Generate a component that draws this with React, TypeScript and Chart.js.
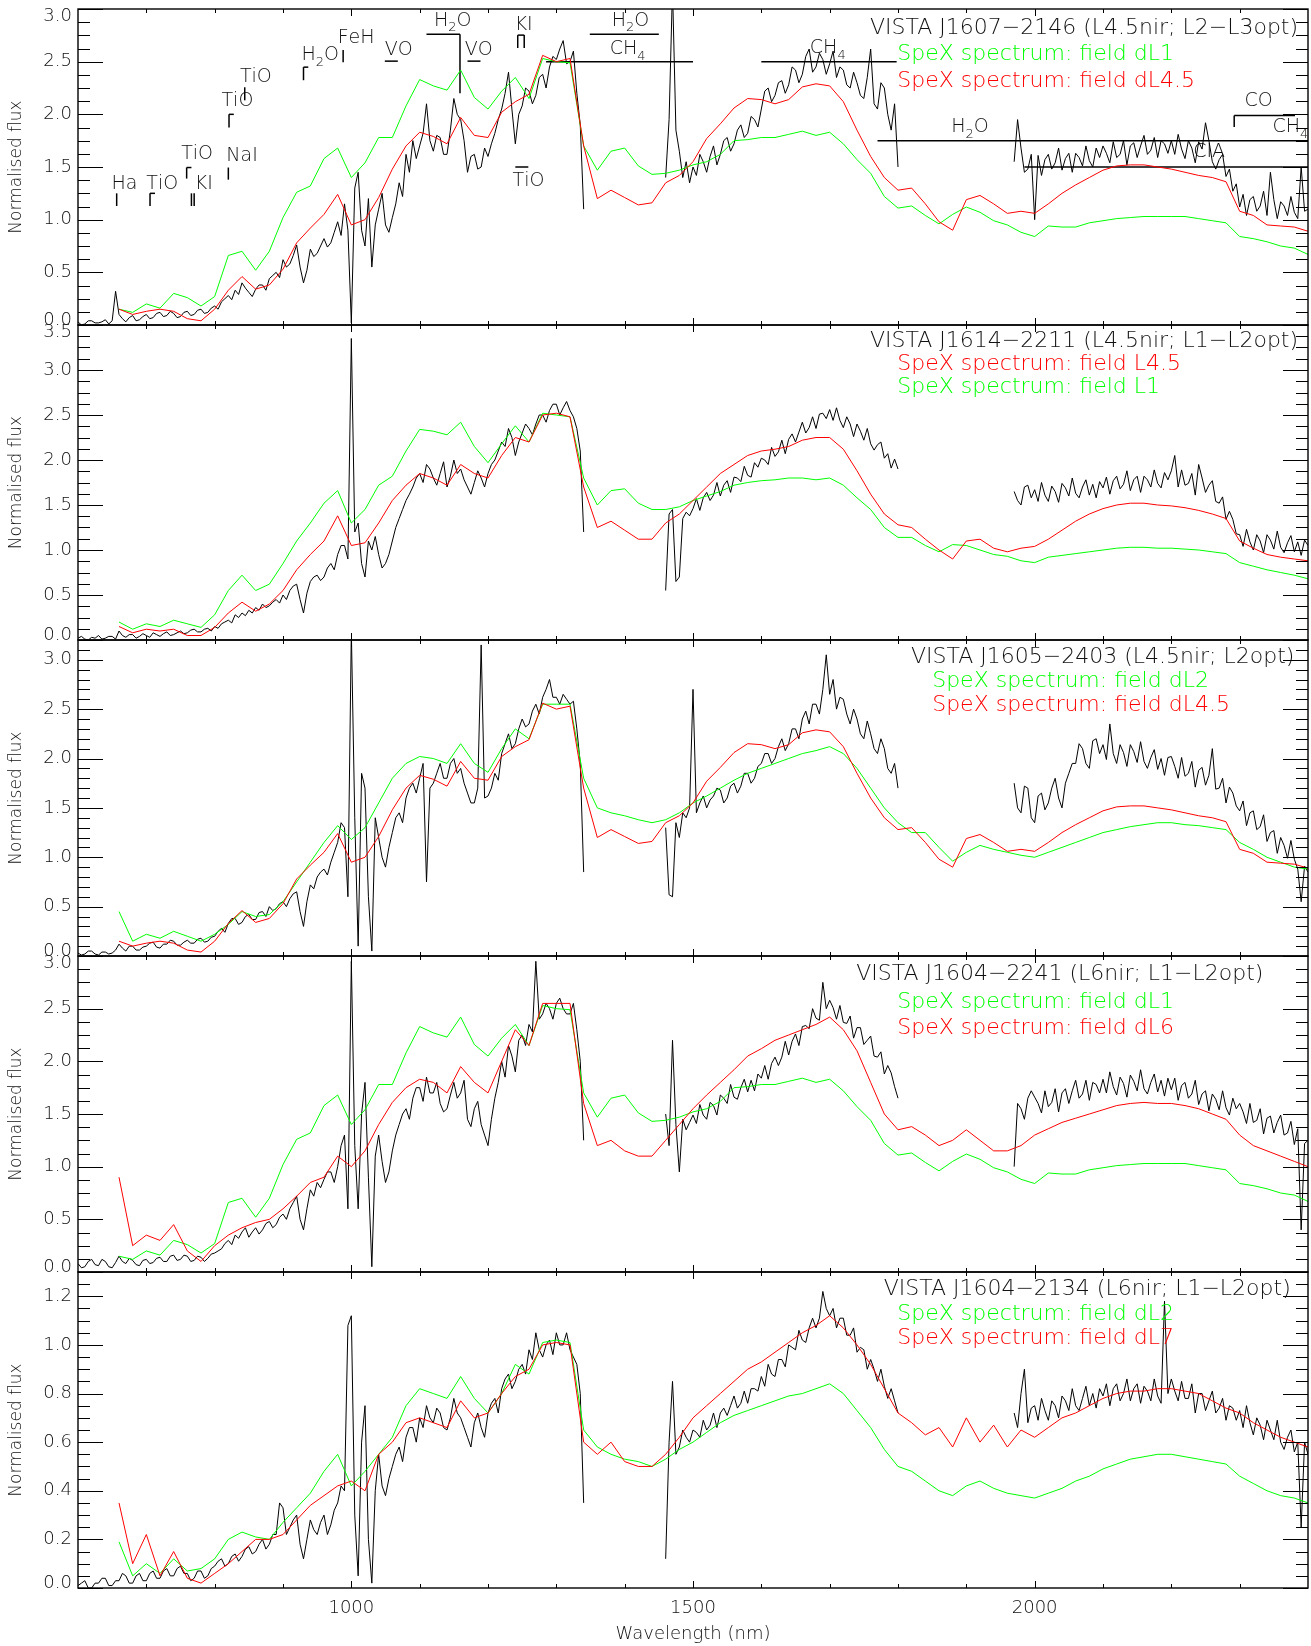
import React, { useEffect, useRef } from "react";
import { Chart, registerables } from "chart.js";

Chart.register(...registerables);

const _ = null;

// ---------------- data ----------------
const WAVE_5 = [
  600, 605, 610, 615, 620, 625, 630, 635, 640, 645, 650, 655, 660, 665, 670, 675, 680, 685, 690, 695,
  700, 705, 710, 715, 720, 725, 730, 735, 740, 745, 750, 755, 760, 765, 770, 775, 780, 785, 790, 795,
  800, 805, 810, 815, 820, 825, 830, 835, 840, 845, 850, 855, 860, 865, 870, 875, 880, 885, 890, 895,
  900, 905, 910, 915, 920, 925, 930, 935, 940, 945, 950, 955, 960, 965, 970, 975, 980, 985, 990, 995,
  1000, 1005, 1010, 1015, 1020, 1025, 1030, 1035, 1040, 1045, 1050, 1055, 1060, 1065, 1070, 1075, 1080, 1085, 1090, 1095,
  1100, 1105, 1110, 1115, 1120, 1125, 1130, 1135, 1140, 1145, 1150, 1155, 1160, 1165, 1170, 1175, 1180, 1185, 1190, 1195,
  1200, 1205, 1210, 1215, 1220, 1225, 1230, 1235, 1240, 1245, 1250, 1255, 1260, 1265, 1270, 1275, 1280, 1285, 1290, 1295,
  1300, 1305, 1310, 1315, 1320, 1325, 1330, 1335, 1340, 1345, 1350, 1355, 1360, 1365, 1370, 1375, 1380, 1385, 1390, 1395,
  1400, 1405, 1410, 1415, 1420, 1425, 1430, 1435, 1440, 1445, 1450, 1455, 1460, 1465, 1470, 1475, 1480, 1485, 1490, 1495,
  1500, 1505, 1510, 1515, 1520, 1525, 1530, 1535, 1540, 1545, 1550, 1555, 1560, 1565, 1570, 1575, 1580, 1585, 1590, 1595,
  1600, 1605, 1610, 1615, 1620, 1625, 1630, 1635, 1640, 1645, 1650, 1655, 1660, 1665, 1670, 1675, 1680, 1685, 1690, 1695,
  1700, 1705, 1710, 1715, 1720, 1725, 1730, 1735, 1740, 1745, 1750, 1755, 1760, 1765, 1770, 1775, 1780, 1785, 1790, 1795,
  1800, 1805, 1810, 1815, 1820, 1825, 1830, 1835, 1840, 1845, 1850, 1855, 1860, 1865, 1870, 1875, 1880, 1885, 1890, 1895,
  1900, 1905, 1910, 1915, 1920, 1925, 1930, 1935, 1940, 1945, 1950, 1955, 1960, 1965, 1970, 1975, 1980, 1985, 1990, 1995,
  2000, 2005, 2010, 2015, 2020, 2025, 2030, 2035, 2040, 2045, 2050, 2055, 2060, 2065, 2070, 2075, 2080, 2085, 2090, 2095,
  2100, 2105, 2110, 2115, 2120, 2125, 2130, 2135, 2140, 2145, 2150, 2155, 2160, 2165, 2170, 2175, 2180, 2185, 2190, 2195,
  2200, 2205, 2210, 2215, 2220, 2225, 2230, 2235, 2240, 2245, 2250, 2255, 2260, 2265, 2270, 2275, 2280, 2285, 2290, 2295,
  2300, 2305, 2310, 2315, 2320, 2325, 2330, 2335, 2340, 2345, 2350, 2355, 2360, 2365, 2370, 2375, 2380, 2385, 2390, 2395,
  2400,
];

const WAVE_20 = [
  600, 620, 640, 660, 680, 700, 720, 740, 760, 780,
  800, 820, 840, 860, 880, 900, 920, 940, 960, 980,
  1000, 1020, 1040, 1060, 1080, 1100, 1120, 1140, 1160, 1180,
  1200, 1220, 1240, 1260, 1280, 1300, 1320, 1340, 1360, 1380,
  1400, 1420, 1440, 1460, 1480, 1500, 1520, 1540, 1560, 1580,
  1600, 1620, 1640, 1660, 1680, 1700, 1720, 1740, 1760, 1780,
  1800, 1820, 1840, 1860, 1880, 1900, 1920, 1940, 1960, 1980,
  2000, 2020, 2040, 2060, 2080, 2100, 2120, 2140, 2160, 2180,
  2200, 2220, 2240, 2260, 2280, 2300, 2320, 2340, 2360, 2380,
  2400,
];

// observed VISTA spectra (black), 5 nm sampling
const BLACK_J1607 = [
  0.03, 0.00, 0.01, 0.04, 0.04, 0.02, 0.02, 0.03, 0.05, 0.01, 0.04, 0.32, 0.10, 0.06, 0.03, 0.07, 0.09, 0.04, 0.05, 0.08,
  0.10, 0.06, 0.07, 0.11, 0.12, 0.08, 0.09, 0.13, 0.11, 0.07, 0.08, 0.12, 0.13, 0.09, 0.10, 0.14, 0.15, 0.11, 0.12, 0.16,
  0.18, 0.15, 0.22, 0.25, 0.28, 0.24, 0.33, 0.29, 0.40, 0.35, 0.31, 0.27, 0.34, 0.38, 0.38, 0.33, 0.44, 0.47, 0.50, 0.45,
  0.62, 0.55, 0.58, 0.66, 0.76, 0.55, 0.40, 0.52, 0.72, 0.65, 0.68, 0.75, 0.82, 0.74, 0.78, 0.88, 0.98, 0.85, 1.15, 0.90,
  0.02, 1.30, 1.45, 0.90, 0.75, 1.20, 0.55, 0.95, 1.10, 1.25, 0.95, 0.88, 1.02, 1.15, 1.35, 1.22, 1.62, 1.45, 1.75, 1.58,
  1.70, 1.82, 2.10, 1.75, 1.65, 1.80, 1.78, 1.62, 1.62, 1.85, 2.15, 2.00, 1.95, 1.75, 1.45, 1.60, 1.62, 1.48, 1.50, 1.68,
  1.60, 1.72, 1.82, 1.95, 2.05, 2.20, 2.40, 2.05, 1.72, 2.00, 2.08, 2.25, 2.22, 2.10, 2.18, 2.35, 2.38, 2.25, 2.45, 2.55,
  2.52, 2.62, 2.70, 2.48, 2.50, 2.60, 2.20, 1.90, 1.10, _, _, _, _, _, _, _, _, _, _, _,
  _, _, _, _, _, _, _, _, _, _, _, _, 1.40, 1.95, 3.20, 1.85, 1.65, 1.40, 1.55, 1.35,
  1.50, 1.42, 1.62, 1.55, 1.45, 1.60, 1.70, 1.52, 1.62, 1.75, 1.78, 1.65, 1.72, 1.85, 1.90, 1.78, 1.82, 1.98, 1.95, 1.88,
  2.05, 2.22, 2.25, 2.12, 2.18, 2.30, 2.32, 2.20, 2.28, 2.45, 2.42, 2.30, 2.38, 2.55, 2.62, 2.40, 2.45, 2.58, 2.52, 2.38,
  2.48, 2.60, 2.35, 2.45, 2.42, 2.28, 2.25, 2.40, 2.30, 2.18, 2.15, 2.35, 2.62, 2.10, 2.05, 2.30, 2.25, 2.00, 1.85, 2.10,
  1.50, _, _, _, _, _, _, _, _, _, _, _, _, _, _, _, _, _, _, _,
  _, _, _, _, _, _, _, _, _, _, _, _, _, _, 1.55, 1.95, 1.68, 1.45, 1.48, 1.62,
  1.00, 1.61, 1.42, 1.57, 1.62, 1.48, 1.54, 1.68, 1.47, 1.58, 1.63, 1.45, 1.63, 1.59, 1.51, 1.70, 1.56, 1.50, 1.68, 1.59,
  1.70, 1.63, 1.54, 1.74, 1.59, 1.62, 1.75, 1.52, 1.70, 1.73, 1.59, 1.70, 1.80, 1.62, 1.66, 1.78, 1.59, 1.75, 1.72, 1.63,
  1.75, 1.62, 1.81, 1.67, 1.58, 1.75, 1.68, 1.54, 1.74, 1.67, 1.92, 1.75, 1.55, 1.48, 1.57, 1.62, 1.41, 1.48, 1.27, 1.34,
  1.12, 1.24, 1.04, 1.19, 1.22, 1.08, 1.13, 1.27, 1.04, 1.45, 1.19, 1.01, 1.17, 1.13, 1.04, 1.22, 1.07, 1.01, 1.50, 1.08,
  1.10,
];

const BLACK_J1614 = [
  0.02, 0.04, 0.01, 0.00, 0.03, 0.02, 0.05, 0.01, 0.02, 0.04, 0.04, 0.01, 0.10, 0.05, 0.03, 0.06, 0.06, 0.02, 0.04, 0.07,
  0.05, 0.03, 0.08, 0.06, 0.04, 0.07, 0.09, 0.05, 0.06, 0.08, 0.10, 0.07, 0.08, 0.11, 0.12, 0.09, 0.09, 0.12, 0.13, 0.10,
  0.15, 0.13, 0.18, 0.20, 0.22, 0.19, 0.28, 0.25, 0.30, 0.27, 0.33, 0.30, 0.36, 0.33, 0.40, 0.36, 0.38, 0.42, 0.45, 0.41,
  0.50, 0.45, 0.55, 0.60, 0.62, 0.45, 0.30, 0.52, 0.65, 0.70, 0.72, 0.66, 0.70, 0.80, 0.85, 0.78, 0.95, 1.05, 1.05, 0.90,
  3.35, 1.20, 1.30, 0.85, 0.70, 1.10, 1.00, 1.15, 0.95, 0.80, 0.85, 0.95, 1.10, 1.25, 1.35, 1.45, 1.55, 1.62, 1.70, 1.80,
  1.85, 1.75, 1.95, 1.90, 1.80, 1.72, 1.85, 1.98, 1.70, 1.82, 2.00, 1.85, 1.90, 1.78, 1.70, 1.62, 1.75, 1.88, 1.80, 1.70,
  1.85, 1.95, 2.00, 2.10, 2.20, 2.15, 2.35, 2.25, 2.05, 2.20, 2.30, 2.40, 2.35, 2.28, 2.40, 2.50, 2.50, 2.42, 2.55, 2.62,
  2.62, 2.50, 2.58, 2.65, 2.55, 2.48, 2.35, 2.10, 1.20, _, _, _, _, _, _, _, _, _, _, _,
  _, _, _, _, _, _, _, _, _, _, _, _, 0.55, 1.40, 1.45, 0.65, 0.70, 1.35, 1.42, 1.38,
  1.46, 1.57, 1.44, 1.58, 1.64, 1.55, 1.61, 1.75, 1.60, 1.72, 1.77, 1.64, 1.81, 1.80, 1.76, 1.93, 1.83, 1.81, 1.97, 1.92,
  2.02, 2.00, 1.95, 2.14, 2.04, 2.09, 2.22, 2.07, 2.23, 2.29, 2.20, 2.31, 2.42, 2.30, 2.36, 2.48, 2.35, 2.51, 2.52, 2.46,
  2.56, 2.44, 2.58, 2.44, 2.36, 2.48, 2.40, 2.26, 2.40, 2.32, 2.22, 2.35, 2.18, 2.11, 2.17, 2.20, 2.02, 2.07, 1.91, 2.01,
  1.90, _, _, _, _, _, _, _, _, _, _, _, _, _, _, _, _, _, _, _,
  _, _, _, _, _, _, _, _, _, _, _, _, _, _, 1.65, 1.55, 1.50, 1.70, 1.72, 1.58,
  1.67, 1.54, 1.75, 1.61, 1.54, 1.71, 1.65, 1.53, 1.74, 1.69, 1.60, 1.80, 1.63, 1.58, 1.70, 1.78, 1.61, 1.73, 1.58, 1.76,
  1.69, 1.81, 1.62, 1.77, 1.82, 1.68, 1.73, 1.88, 1.66, 1.78, 1.82, 1.64, 1.82, 1.78, 1.70, 1.89, 1.74, 1.69, 1.86, 1.78,
  1.88, 2.05, 1.70, 1.89, 1.72, 1.74, 1.85, 1.61, 1.95, 1.80, 1.64, 1.72, 1.77, 1.54, 1.52, 1.59, 1.34, 1.43, 1.34, 1.18,
  1.17, 1.04, 1.23, 1.09, 1.00, 1.17, 1.10, 0.97, 1.17, 1.11, 1.01, 1.21, 1.03, 0.97, 1.08, 1.16, 0.98, 1.09, 0.94, 1.11,
  1.05,
];

const BLACK_J1605 = [
  0.03, 0.01, 0.02, 0.05, 0.05, 0.02, 0.01, 0.04, 0.04, 0.02, 0.03, 0.06, 0.12, 0.08, 0.05, 0.10, 0.10, 0.06, 0.06, 0.09,
  0.10, 0.13, 0.14, 0.09, 0.08, 0.12, 0.12, 0.16, 0.15, 0.11, 0.11, 0.14, 0.16, 0.13, 0.13, 0.17, 0.18, 0.14, 0.15, 0.19,
  0.20, 0.25, 0.28, 0.24, 0.33, 0.38, 0.38, 0.32, 0.34, 0.40, 0.42, 0.37, 0.37, 0.44, 0.45, 0.40, 0.50, 0.46, 0.48, 0.53,
  0.55, 0.50, 0.58, 0.63, 0.65, 0.45, 0.30, 0.55, 0.72, 0.68, 0.80, 0.85, 0.88, 0.82, 0.95, 1.05, 1.15, 1.35, 1.30, 0.60,
  3.30, 1.40, 0.10, 1.85, 1.70, 0.60, 0.05, 1.40, 1.20, 1.00, 0.90, 1.10, 1.25, 1.40, 1.45, 1.35, 1.60, 1.70, 1.75, 1.65,
  1.80, 1.95, 0.75, 1.70, 1.75, 1.85, 1.95, 1.80, 1.80, 1.95, 2.00, 1.85, 1.90, 1.75, 1.65, 1.55, 1.55, 1.70, 3.15, 1.60,
  1.62, 1.70, 1.85, 1.78, 2.05, 2.15, 2.25, 2.10, 2.15, 2.30, 2.40, 2.32, 2.35, 2.48, 2.55, 2.45, 2.62, 2.70, 2.80, 2.62,
  2.62, 2.55, 2.65, 2.60, 2.55, 2.58, 2.30, 1.95, 0.85, _, _, _, _, _, _, _, _, _, _, _,
  _, _, _, _, _, _, _, _, _, _, _, _, 1.30, 0.62, 0.60, 1.35, 1.20, 1.45, 1.40, 1.50,
  2.70, 1.45, 1.55, 1.62, 1.50, 1.58, 1.62, 1.70, 1.68, 1.55, 1.60, 1.72, 1.75, 1.65, 1.72, 1.85, 1.85, 1.75, 1.80, 1.92,
  1.95, 2.05, 2.05, 1.95, 2.00, 2.12, 2.20, 2.08, 2.15, 2.30, 2.30, 2.20, 2.40, 2.48, 2.35, 2.55, 2.55, 2.45, 2.70, 3.05,
  2.65, 2.80, 2.50, 2.62, 2.60, 2.45, 2.35, 2.50, 2.40, 2.25, 2.20, 2.38, 2.25, 2.10, 2.05, 2.20, 2.10, 1.90, 1.85, 1.95,
  1.70, _, _, _, _, _, _, _, _, _, _, _, _, _, _, _, _, _, _, _,
  _, _, _, _, _, _, _, _, _, _, _, _, _, _, 1.75, 1.50, 1.45, 1.72, 1.70, 1.40,
  1.35, 1.62, 1.65, 1.48, 1.55, 1.70, 1.80, 1.60, 1.50, 1.75, 1.85, 1.95, 1.95, 2.15, 2.10, 1.95, 1.90, 2.18, 2.20, 2.05,
  2.14, 1.99, 2.35, 2.05, 1.95, 2.14, 2.06, 1.92, 2.14, 2.07, 1.96, 2.17, 1.97, 1.90, 2.01, 2.09, 1.89, 2.00, 1.83, 2.01,
  2.02, 1.92, 1.80, 2.01, 1.82, 1.85, 1.97, 1.71, 1.88, 1.91, 1.73, 1.83, 2.10, 1.69, 1.70, 1.80, 1.55, 1.71, 1.65, 1.52,
  1.47, 1.57, 1.32, 1.45, 1.47, 1.28, 1.31, 1.43, 1.16, 1.25, 1.27, 1.04, 1.20, 1.12, 0.99, 1.17, 0.98, 0.88, 0.55, 0.91,
  0.85,
];

const BLACK_J1604_2241 = [
  0.08, 0.04, 0.05, 0.10, 0.12, 0.07, 0.06, 0.12, 0.10, 0.05, 0.04, 0.09, 0.15, 0.10, 0.08, 0.13, 0.11, 0.07, 0.06, 0.11,
  0.12, 0.08, 0.09, 0.13, 0.14, 0.10, 0.10, 0.15, 0.16, 0.11, 0.12, 0.16, 0.15, 0.10, 0.11, 0.15, 0.14, 0.10, 0.13, 0.17,
  0.18, 0.20, 0.22, 0.27, 0.30, 0.26, 0.35, 0.32, 0.38, 0.42, 0.33, 0.38, 0.42, 0.36, 0.40, 0.46, 0.48, 0.42, 0.45, 0.52,
  0.55, 0.50, 0.60, 0.66, 0.72, 0.50, 0.40, 0.60, 0.78, 0.72, 0.85, 0.80, 0.88, 0.95, 0.95, 0.85, 1.00, 1.20, 1.30, 0.60,
  2.95, 1.20, 0.60, 1.50, 1.80, 0.90, 0.05, 1.10, 1.30, 1.05, 0.85, 0.95, 1.15, 1.30, 1.40, 1.50, 1.55, 1.45, 1.65, 1.75,
  1.75, 1.62, 1.85, 1.70, 1.70, 1.80, 1.60, 1.52, 1.55, 1.68, 1.80, 1.65, 1.70, 1.82, 1.45, 1.38, 1.55, 1.62, 1.40, 1.30,
  1.20, 1.45, 1.65, 1.80, 2.00, 1.85, 2.15, 2.05, 1.90, 2.20, 2.25, 2.15, 2.35, 2.28, 2.95, 2.40, 2.45, 2.55, 2.50, 2.40,
  2.55, 2.60, 2.50, 2.45, 2.45, 2.55, 2.30, 2.00, 1.25, _, _, _, _, _, _, _, _, _, _, _,
  _, _, _, _, _, _, _, _, _, _, _, _, 1.50, 1.20, 2.20, 1.40, 0.95, 1.45, 1.35, 1.42,
  1.49, 1.41, 1.59, 1.49, 1.45, 1.61, 1.58, 1.49, 1.68, 1.65, 1.60, 1.78, 1.66, 1.64, 1.75, 1.83, 1.71, 1.82, 1.72, 1.88,
  1.84, 1.96, 1.83, 1.98, 2.04, 1.96, 2.04, 2.19, 2.06, 2.19, 2.26, 2.15, 2.33, 2.34, 2.31, 2.50, 2.41, 2.39, 2.75, 2.50,
  2.58, 2.51, 2.40, 2.53, 2.37, 2.36, 2.43, 2.22, 2.32, 2.32, 2.16, 2.20, 2.24, 2.05, 2.04, 2.09, 1.88, 1.96, 1.89, 1.76,
  1.65, _, _, _, _, _, _, _, _, _, _, _, _, _, _, _, _, _, _, _,
  _, _, _, _, _, _, _, _, _, _, _, _, _, _, 1.00, 1.60, 1.55, 1.45, 1.65, 1.72,
  1.66, 1.60, 1.51, 1.72, 1.57, 1.61, 1.74, 1.52, 1.70, 1.74, 1.60, 1.72, 1.82, 1.65, 1.69, 1.82, 1.63, 1.80, 1.78, 1.70,
  1.83, 1.70, 1.90, 1.76, 1.68, 1.85, 1.79, 1.66, 1.87, 1.81, 1.72, 1.92, 1.74, 1.69, 1.80, 1.88, 1.71, 1.82, 1.67, 1.84,
  1.73, 1.84, 1.63, 1.77, 1.80, 1.65, 1.69, 1.82, 1.59, 1.69, 1.72, 1.53, 1.69, 1.64, 1.54, 1.72, 1.56, 1.49, 1.65, 1.55,
  1.60, 1.52, 1.41, 1.60, 1.42, 1.44, 1.55, 1.31, 1.46, 1.48, 1.32, 1.42, 1.49, 1.30, 1.32, 1.43, 1.21, 1.36, 0.40, 1.22,
  1.25,
];

const BLACK_J1604_2134 = [
  0.01, 0.02, 0.03, 0.00, 0.00, 0.02, 0.02, 0.04, 0.04, 0.01, 0.01, 0.03, 0.03, 0.06, 0.05, 0.02, 0.02, 0.05, 0.06, 0.03,
  0.03, 0.06, 0.07, 0.04, 0.04, 0.07, 0.08, 0.05, 0.05, 0.08, 0.09, 0.06, 0.06, 0.03, 0.04, 0.07, 0.07, 0.04, 0.05, 0.08,
  0.09, 0.11, 0.12, 0.09, 0.10, 0.13, 0.14, 0.11, 0.13, 0.16, 0.17, 0.14, 0.15, 0.18, 0.20, 0.16, 0.18, 0.22, 0.22, 0.35,
  0.33, 0.22, 0.25, 0.28, 0.30, 0.18, 0.12, 0.20, 0.28, 0.24, 0.22, 0.27, 0.30, 0.22, 0.26, 0.32, 0.35, 0.42, 0.40, 1.08,
  1.12, 0.30, 0.05, 0.60, 0.75, 0.20, 0.02, 0.40, 0.55, 0.42, 0.38, 0.45, 0.50, 0.55, 0.58, 0.52, 0.62, 0.66, 0.66, 0.60,
  0.70, 0.66, 0.75, 0.70, 0.68, 0.74, 0.72, 0.66, 0.65, 0.70, 0.78, 0.72, 0.70, 0.66, 0.62, 0.58, 0.68, 0.72, 0.66, 0.62,
  0.72, 0.76, 0.78, 0.72, 0.82, 0.86, 0.88, 0.82, 0.85, 0.90, 0.92, 0.88, 0.98, 0.94, 1.05, 0.98, 0.95, 1.00, 1.02, 0.96,
  1.05, 1.00, 1.00, 1.05, 0.98, 0.95, 0.92, 0.80, 0.35, _, _, _, _, _, _, _, _, _, _, _,
  _, _, _, _, _, _, _, _, _, _, _, _, 0.12, 0.60, 0.85, 0.55, 0.58, 0.65, 0.62, 0.60,
  0.65, 0.64, 0.62, 0.69, 0.65, 0.67, 0.72, 0.66, 0.72, 0.74, 0.71, 0.75, 0.79, 0.74, 0.76, 0.81, 0.76, 0.82, 0.82, 0.81,
  0.87, 0.83, 0.92, 0.88, 0.87, 0.94, 0.94, 0.91, 1.00, 0.99, 0.98, 1.06, 1.02, 1.01, 1.07, 1.11, 1.07, 1.11, 1.22, 1.15,
  1.12, 1.15, 1.07, 1.11, 1.11, 1.04, 1.04, 1.07, 0.97, 0.99, 0.98, 0.90, 0.94, 0.90, 0.85, 0.90, 0.83, 0.78, 0.82, 0.77,
  0.72, _, _, _, _, _, _, _, _, _, _, _, _, _, _, _, _, _, _, _,
  _, _, _, _, _, _, _, _, _, _, _, _, _, _, 0.72, 0.66, 0.80, 0.90, 0.68, 0.74,
  0.75, 0.69, 0.78, 0.73, 0.69, 0.77, 0.75, 0.70, 0.79, 0.77, 0.73, 0.82, 0.75, 0.73, 0.78, 0.83, 0.75, 0.80, 0.74, 0.82,
  0.79, 0.84, 0.75, 0.82, 0.84, 0.77, 0.80, 0.86, 0.77, 0.82, 0.84, 0.76, 0.83, 0.81, 0.77, 0.86, 0.79, 0.76, 1.18, 0.80,
  0.86, 0.81, 0.77, 0.85, 0.78, 0.78, 0.84, 0.72, 0.80, 0.80, 0.73, 0.77, 0.81, 0.72, 0.74, 0.78, 0.69, 0.75, 0.74, 0.69,
  0.73, 0.66, 0.75, 0.68, 0.63, 0.70, 0.67, 0.61, 0.69, 0.65, 0.61, 0.69, 0.60, 0.57, 0.62, 0.65, 0.56, 0.60, 0.25, 0.60,
  0.55,
];

// SpeX template spectra (green / red), 20 nm sampling
const SPEX_DL1 = [
  _, _, _, 0.15, 0.12, 0.20, 0.16, 0.30, 0.26, 0.18,
  0.27, 0.66, 0.70, 0.52, 0.70, 1.02, 1.26, 1.32, 1.58, 1.68,
  1.40, 1.54, 1.78, 1.78, 2.08, 2.33, 2.27, 2.23, 2.42, 2.16,
  2.05, 2.22, 2.35, 2.15, 2.53, 2.50, 2.49, 1.70, 1.47, 1.65,
  1.68, 1.51, 1.43, 1.44, 1.47, 1.52, 1.55, 1.62, 1.75, 1.76,
  1.78, 1.78, 1.81, 1.84, 1.80, 1.83, 1.72, 1.57, 1.44, 1.22,
  1.11, 1.13, 1.04, 0.96, 1.05, 1.12, 1.07, 0.99, 0.95, 0.88,
  0.84, 0.94, 0.93, 0.93, 0.97, 0.99, 1.01, 1.02, 1.03, 1.03,
  1.03, 1.03, 1.01, 0.99, 0.97, 0.84, 0.82, 0.79, 0.75, 0.73,
  0.67,
];

const SPEX_DL45 = [
  _, _, _, 0.15, 0.10, 0.13, 0.15, 0.13, 0.06, 0.04,
  0.15, 0.33, 0.46, 0.34, 0.38, 0.53, 0.78, 0.92, 1.05, 1.24,
  0.95, 1.00, 1.21, 1.48, 1.70, 1.83, 1.79, 1.72, 1.97, 1.80,
  1.78, 2.02, 2.12, 2.19, 2.56, 2.50, 2.53, 1.70, 1.20, 1.28,
  1.21, 1.14, 1.16, 1.35, 1.42, 1.55, 1.77, 1.91, 2.06, 2.15,
  2.14, 2.10, 2.14, 2.26, 2.29, 2.27, 2.12, 1.85, 1.60, 1.40,
  1.28, 1.30, 1.15, 0.98, 0.90, 1.19, 1.23, 1.15, 1.06, 1.08,
  1.06, 1.15, 1.25, 1.33, 1.40, 1.47, 1.51, 1.52, 1.52, 1.50,
  1.48, 1.45, 1.42, 1.40, 1.36, 1.08, 1.04, 0.95, 0.94, 0.93,
  0.89,
];

const SPEX_L1 = [
  _, _, _, 0.20, 0.12, 0.18, 0.15, 0.22, 0.18, 0.14,
  0.28, 0.55, 0.72, 0.55, 0.62, 0.85, 1.10, 1.30, 1.52, 1.66,
  1.30, 1.45, 1.72, 1.82, 2.10, 2.34, 2.32, 2.28, 2.42, 2.15,
  1.97, 2.18, 2.38, 2.20, 2.52, 2.50, 2.48, 1.80, 1.50, 1.66,
  1.68, 1.52, 1.45, 1.45, 1.48, 1.55, 1.60, 1.65, 1.72, 1.75,
  1.77, 1.78, 1.80, 1.80, 1.78, 1.80, 1.72, 1.58, 1.45, 1.25,
  1.14, 1.14, 1.05, 0.98, 1.06, 1.05, 1.00, 0.95, 0.93, 0.88,
  0.86, 0.92, 0.94, 0.96, 0.98, 1.00, 1.02, 1.03, 1.03, 1.02,
  1.02, 1.01, 1.00, 0.98, 0.96, 0.86, 0.82, 0.78, 0.75, 0.72,
  0.68,
];

const SPEX_L45 = [
  _, _, _, 0.15, 0.08, 0.12, 0.10, 0.12, 0.05, 0.05,
  0.14, 0.30, 0.42, 0.32, 0.40, 0.55, 0.78, 0.95, 1.10, 1.38,
  1.05, 1.08, 1.30, 1.55, 1.72, 1.85, 1.80, 1.72, 1.95, 1.85,
  1.80, 2.05, 2.25, 2.20, 2.50, 2.52, 2.48, 1.70, 1.25, 1.32,
  1.22, 1.12, 1.12, 1.30, 1.40, 1.55, 1.70, 1.85, 1.95, 2.05,
  2.10, 2.12, 2.15, 2.22, 2.25, 2.25, 2.12, 1.88, 1.62, 1.40,
  1.28, 1.25, 1.12, 1.00, 0.90, 1.10, 1.12, 1.02, 0.98, 1.02,
  1.04, 1.12, 1.22, 1.32, 1.40, 1.46, 1.50, 1.52, 1.52, 1.50,
  1.49, 1.47, 1.44, 1.40, 1.35, 1.10, 1.02, 0.95, 0.92, 0.90,
  0.88,
];

const SPEX_DL2 = [
  _, _, _, 0.45, 0.15, 0.22, 0.18, 0.25, 0.20, 0.15,
  0.22, 0.32, 0.45, 0.40, 0.42, 0.55, 0.75, 0.95, 1.15, 1.32,
  1.18, 1.30, 1.55, 1.80, 1.95, 2.02, 2.00, 1.95, 2.15, 1.95,
  1.86, 2.10, 2.30, 2.20, 2.55, 2.55, 2.55, 1.80, 1.50, 1.45,
  1.42, 1.38, 1.35, 1.38, 1.45, 1.55, 1.62, 1.70, 1.78, 1.85,
  1.90, 1.95, 2.00, 2.05, 2.08, 2.12, 2.05, 1.90, 1.70, 1.50,
  1.35, 1.25, 1.25, 1.10, 0.96, 1.05, 1.12, 1.08, 1.05, 1.02,
  1.00, 1.05, 1.10, 1.15, 1.20, 1.25, 1.28, 1.31, 1.33, 1.35,
  1.35, 1.33, 1.32, 1.30, 1.28, 1.15, 1.08, 1.00, 0.95, 0.90,
  0.88,
];

const SPEX_DL6 = [
  _, _, _, 0.90, 0.25, 0.35, 0.30, 0.45, 0.20, 0.10,
  0.25, 0.35, 0.42, 0.47, 0.50, 0.60, 0.72, 0.85, 0.90, 1.10,
  1.00, 1.15, 1.40, 1.61, 1.75, 1.83, 1.80, 1.70, 1.95, 1.80,
  1.70, 2.00, 2.30, 2.15, 2.55, 2.55, 2.55, 1.60, 1.20, 1.25,
  1.15, 1.10, 1.10, 1.25, 1.40, 1.55, 1.68, 1.80, 1.92, 2.05,
  2.12, 2.20, 2.25, 2.30, 2.35, 2.42, 2.30, 2.10, 1.80, 1.50,
  1.35, 1.38, 1.30, 1.20, 1.25, 1.35, 1.25, 1.15, 1.15, 1.20,
  1.30, 1.36, 1.42, 1.46, 1.50, 1.54, 1.58, 1.60, 1.61, 1.60,
  1.60, 1.58, 1.55, 1.50, 1.45, 1.30, 1.20, 1.15, 1.10, 1.05,
  1.00,
];

const SPEX_DL2_J1604 = [
  _, _, _, 0.19, 0.05, 0.10, 0.06, 0.12, 0.07, 0.08,
  0.12, 0.20, 0.23, 0.21, 0.20, 0.27, 0.33, 0.39, 0.48, 0.55,
  0.42, 0.48, 0.55, 0.62, 0.75, 0.82, 0.80, 0.78, 0.87, 0.78,
  0.72, 0.80, 0.92, 0.88, 1.01, 1.02, 1.01, 0.65, 0.58, 0.55,
  0.53, 0.52, 0.50, 0.53, 0.57, 0.60, 0.64, 0.68, 0.71, 0.73,
  0.75, 0.77, 0.79, 0.80, 0.82, 0.84, 0.80, 0.73, 0.66, 0.57,
  0.50, 0.48, 0.44, 0.40, 0.38, 0.42, 0.44, 0.41, 0.39, 0.38,
  0.37, 0.39, 0.41, 0.44, 0.46, 0.49, 0.51, 0.53, 0.54, 0.55,
  0.55, 0.54, 0.53, 0.52, 0.51, 0.46, 0.43, 0.40, 0.38, 0.37,
  0.35,
];

const SPEX_DL7 = [
  _, _, _, 0.35, 0.10, 0.22, 0.05, 0.15, 0.04, 0.02,
  0.06, 0.10, 0.15, 0.20, 0.20, 0.22, 0.28, 0.34, 0.38, 0.42,
  0.44, 0.40, 0.55, 0.60, 0.68, 0.70, 0.68, 0.66, 0.77, 0.70,
  0.72, 0.80, 0.87, 0.90, 1.00, 1.01, 1.00, 0.60, 0.55, 0.60,
  0.52, 0.50, 0.50, 0.55, 0.62, 0.70, 0.75, 0.80, 0.85, 0.90,
  0.93, 0.97, 1.01, 1.05, 1.08, 1.12, 1.07, 1.00, 0.92, 0.82,
  0.72, 0.68, 0.63, 0.66, 0.58, 0.70, 0.60, 0.67, 0.58, 0.65,
  0.62, 0.66, 0.70, 0.72, 0.75, 0.78, 0.80, 0.81, 0.81, 0.82,
  0.82, 0.81, 0.80, 0.77, 0.74, 0.72, 0.68, 0.65, 0.62, 0.60,
  0.58,
];

const X_TICK_LABELS = [1000, 1500, 2000];

// feature labels of the top panel: [text, wavelength, flux]  ("_" marks a subscript)
const FEATURE_TEXT: [string, number, number][] = [
  ["Ha", 649, 1.34],
  ["TiO", 700, 1.34],
  ["TiO", 751, 1.62],
  ["KI", 771, 1.34],
  ["NaI", 817, 1.6],
  ["TiO", 810, 2.13],
  ["TiO", 837, 2.35],
  ["H_2O", 927, 2.56],
  ["FeH", 980, 2.72],
  ["VO", 1049, 2.61],
  ["H_2O", 1121, 2.89],
  ["VO", 1166, 2.61],
  ["KI", 1239, 2.85],
  ["TiO", 1236, 1.37],
  ["H_2O", 1381, 2.89],
  ["CH_4", 1378, 2.62],
  ["CH_4", 1671, 2.63],
  ["H_2O", 1878, 1.88],
  ["CO", 2307, 2.13],
  ["CH_4", 2348, 1.88],
  ["CIA", 2232, 1.64],
];

// feature marks of the top panel: [wl1, flux1, wl2, flux2]
const FEATURE_MARKS: [number, number, number, number][] = [
  [656.6, 1.13, 656.6, 1.25],
  [705.4, 1.13, 705.4, 1.25], [705.4, 1.25, 712.7, 1.25],
  [759, 1.39, 759, 1.495], [759, 1.495, 766, 1.495],
  [766, 1.13, 766, 1.25], [770, 1.13, 770, 1.25],
  [820, 1.38, 820, 1.495],
  [821, 1.876, 821, 2.0], [821, 2.0, 828, 2.0],
  [844, 2.133, 844, 2.257],
  [930, 2.324, 930, 2.448], [930, 2.448, 937, 2.448],
  [988, 2.495, 988, 2.61],
  [1049, 2.505, 1068, 2.505],
  [1110, 2.76, 1159, 2.76], [1159, 2.76, 1159, 2.2],
  [1170, 2.505, 1189, 2.505],
  [1243.5, 2.63, 1243.5, 2.752], [1253, 2.63, 1253, 2.752], [1243.5, 2.752, 1253, 2.752],
  [1240, 1.5, 1259, 1.5],
  [1349, 2.76, 1450, 2.76],
  [1285, 2.5, 1500, 2.5],
  [1600, 2.5, 1798, 2.5],
  [1770, 1.75, 2400, 1.75],
  [1985, 1.5, 2400, 1.5],
  [2292, 1.88, 2292, 1.99], [2292, 1.99, 2381, 1.99],
];

// ---------------- layout / style ----------------
const W = 1311;
const H = 1646;
const FRAME_L = 78;
const FRAME_R = 1308;
const PANEL_TOP = [9, 325, 640, 956, 1272];
const PANEL_BOTTOM = [325, 640, 956, 1272, 1588];
const GREEN = "#00ff00";
const RED = "#ff0000";
const BLACK = "#000000";
const FAMILY = '"DejaVu Sans", "Liberation Sans", sans-serif';
const fnt = (s: number) => `300 ${s}px ${FAMILY}`;

type Panel = {
  black: (number | null)[];
  green: (number | null)[];
  red: (number | null)[];
  yMax: number;
  major: number;
  minor: number;
  title: string;
  titleX: number;
  legendX: number;
  legend: [string, string][];
  rows: number[];
};

const PANELS: Panel[] = [
  {
    black: BLACK_J1607, green: SPEX_DL1, red: SPEX_DL45, yMax: 3.0, major: 0.5, minor: 0.125,
    title: "VISTA J1607\u22122146 (L4.5nir; L2\u2212L3opt)", titleX: 1759, legendX: 1799,
    legend: [["SpeX spectrum: field dL1", GREEN], ["SpeX spectrum: field dL4.5", RED]], rows: [19, 45, 72],
  },
  {
    black: BLACK_J1614, green: SPEX_L1, red: SPEX_L45, yMax: 3.5, major: 0.5, minor: 0.125,
    title: "VISTA J1614\u22122211 (L4.5nir; L1\u2212L2opt)", titleX: 1759, legendX: 1799,
    legend: [["SpeX spectrum: field L4.5", RED], ["SpeX spectrum: field L1", GREEN]], rows: [16, 39, 62],
  },
  {
    black: BLACK_J1605, green: SPEX_DL2, red: SPEX_DL45, yMax: 3.2, major: 0.5, minor: 0.1,
    title: "VISTA J1605\u22122403 (L4.5nir; L2opt)", titleX: 1819, legendX: 1850,
    legend: [["SpeX spectrum: field dL2", GREEN], ["SpeX spectrum: field dL4.5", RED]], rows: [17, 41, 65],
  },
  {
    black: BLACK_J1604_2241, green: SPEX_DL1, red: SPEX_DL6, yMax: 3.0, major: 0.5, minor: 0.125,
    title: "VISTA J1604\u22122241 (L6nir; L1\u2212L2opt)", titleX: 1739, legendX: 1799,
    legend: [["SpeX spectrum: field dL1", GREEN], ["SpeX spectrum: field dL6", RED]], rows: [18, 46, 72],
  },
  {
    black: BLACK_J1604_2134, green: SPEX_DL2_J1604, red: SPEX_DL7, yMax: 1.3, major: 0.2, minor: 0.05,
    title: "VISTA J1604\u22122134 (L6nir; L1\u2212L2opt)", titleX: 1779, legendX: 1799,
    legend: [["SpeX spectrum: field dL2", GREEN], ["SpeX spectrum: field dL7", RED]], rows: [17, 42, 66],
  },
];

function toXY(xs: number[], ys: (number | null)[]) {
  return xs.map((x, i) => ({ x, y: ys[i] }));
}

function seg(ctx: CanvasRenderingContext2D, x1: number, y1: number, x2: number, y2: number) {
  ctx.beginPath();
  ctx.moveTo(x1, y1);
  ctx.lineTo(x2, y2);
  ctx.stroke();
}

function drawRich(ctx: CanvasRenderingContext2D, text: string, x: number, y: number, size: number) {
  let cx = x;
  for (let i = 0; i < text.length; i++) {
    let ch = text[i];
    let sub = false;
    if (ch === "_" && i + 1 < text.length) {
      sub = true;
      ch = text[++i];
    }
    const s = sub ? Math.round(size * 0.68) : size;
    ctx.font = fnt(s);
    ctx.fillText(ch, cx, sub ? y + size * 0.38 : y);
    cx += ctx.measureText(ch).width;
  }
}

function makePlugin(idx: number) {
  const p = PANELS[idx];
  return {
    id: "idlFrame" + idx,
    beforeDatasetsDraw(chart: any) {
      if (idx !== 0) return;
      const { ctx, scales } = chart;
      const xs = scales.x;
      const ys = scales.y;
      ctx.save();
      ctx.strokeStyle = BLACK;
      ctx.lineWidth = 1.5;
      FEATURE_MARKS.forEach(([a, b, c, d]) => {
        seg(ctx, xs.getPixelForValue(a), ys.getPixelForValue(b), xs.getPixelForValue(c), ys.getPixelForValue(d));
      });
      ctx.fillStyle = "#111";
      ctx.textAlign = "left";
      ctx.textBaseline = "middle";
      FEATURE_TEXT.forEach(([t, wl, f]) => {
        drawRich(ctx, t, xs.getPixelForValue(wl), ys.getPixelForValue(f), 19);
      });
      ctx.restore();
    },
    afterDraw(chart: any) {
      const { ctx, chartArea: a, scales } = chart;
      const xs = scales.x;
      const ys = scales.y;
      ctx.save();
      ctx.strokeStyle = BLACK;
      ctx.lineWidth = 1.4;
      ctx.strokeRect(a.left, a.top, a.right - a.left, a.bottom - a.top);
      ctx.lineWidth = 1;
      ctx.fillStyle = "#111";
      ctx.font = fnt(18);
      ctx.textAlign = "right";
      ctx.textBaseline = "middle";
      const n = Math.round(p.yMax / p.minor);
      for (let k = 0; k <= n; k++) {
        const v = k * p.minor;
        const y = Math.round(ys.getPixelForValue(v)) + 0.5;
        const r = v / p.major;
        const isMajor = Math.abs(r - Math.round(r)) < 1e-6;
        const len = isMajor ? 25 : 12;
        seg(ctx, a.left, y, a.left + len, y);
        seg(ctx, a.right, y, a.right - len, y);
        if (isMajor) {
          let ly = ys.getPixelForValue(v);
          if (k === n) ly += 7;
          if (k === 0) ly -= 5;
          ctx.fillText(v.toFixed(1), a.left - 6, ly);
        }
      }
      for (let wl = 700; wl < 2400; wl += 100) {
        const x = Math.round(xs.getPixelForValue(wl)) + 0.5;
        const len = wl % 500 === 0 ? 7 : 4;
        seg(ctx, x, a.bottom, x, a.bottom - len);
        seg(ctx, x, a.top, x, a.top + len);
      }
      ctx.save();
      ctx.translate(17, (a.top + a.bottom) / 2);
      ctx.rotate(-Math.PI / 2);
      ctx.textAlign = "center";
      ctx.textBaseline = "middle";
      ctx.font = fnt(17);
      ctx.fillText("Normalised flux", 0, 0);
      ctx.restore();
      if (idx === PANELS.length - 1) {
        ctx.textAlign = "center";
        ctx.textBaseline = "middle";
        ctx.font = fnt(18);
        X_TICK_LABELS.forEach((wl) => ctx.fillText(String(wl), xs.getPixelForValue(wl), a.bottom + 20));
        ctx.fillText("Wavelength (nm)", (a.left + a.right) / 2, a.bottom + 46);
      }
      ctx.textAlign = "left";
      ctx.textBaseline = "middle";
      ctx.font = fnt(22);
      ctx.fillStyle = "#111";
      ctx.fillText(p.title, xs.getPixelForValue(p.titleX), a.top + p.rows[0]);
      p.legend.forEach(([t, c], i) => {
        ctx.fillStyle = c;
        ctx.fillText(t, xs.getPixelForValue(p.legendX), a.top + p.rows[i + 1]);
      });
      ctx.restore();
    },
  };
}

function PanelChart({ idx }: { idx: number }) {
  const ref = useRef<HTMLCanvasElement>(null);
  const p = PANELS[idx];
  const padT = idx === 0 ? PANEL_TOP[0] : 30;
  const padB = idx === PANELS.length - 1 ? H - PANEL_BOTTOM[idx] : 30;
  const cTop = PANEL_TOP[idx] - padT;
  const cH = PANEL_BOTTOM[idx] + padB - cTop;

  useEffect(() => {
    if (!ref.current) return;
    const chart = new Chart(ref.current, {
      type: "line",
      data: {
        datasets: [
          { data: toXY(WAVE_20, p.red), borderColor: RED, borderWidth: 1, pointRadius: 0, order: 0, fill: false },
          { data: toXY(WAVE_20, p.green), borderColor: GREEN, borderWidth: 1, pointRadius: 0, order: 1, fill: false },
          { data: toXY(WAVE_5, p.black), borderColor: BLACK, borderWidth: 1, pointRadius: 0, order: 2, fill: false },
        ],
      } as any,
      options: {
        animation: false,
        responsive: false,
        devicePixelRatio: 1,
        events: [],
        spanGaps: false,
        layout: { padding: { left: FRAME_L, right: W - FRAME_R, top: padT, bottom: padB } },
        scales: {
          x: { type: "linear", min: 600, max: 2400, display: false },
          y: { type: "linear", min: 0, max: p.yMax, display: false },
        },
        plugins: { legend: { display: false }, tooltip: { enabled: false } },
        elements: { line: { tension: 0 } },
      } as any,
      plugins: [makePlugin(idx)],
    });
    return () => chart.destroy();
  }, []);

  return (
    <canvas
      ref={ref}
      width={W}
      height={cH}
      style={{ position: "absolute", left: 0, top: cTop, width: W, height: cH }}
    />
  );
}

export default function App() {
  return (
    <div style={{ position: "absolute", left: 0, top: 0, width: W, height: H, background: "#fff" }}>
      {PANELS.map((_p, i) => (
        <PanelChart key={i} idx={i} />
      ))}
    </div>
  );
}
